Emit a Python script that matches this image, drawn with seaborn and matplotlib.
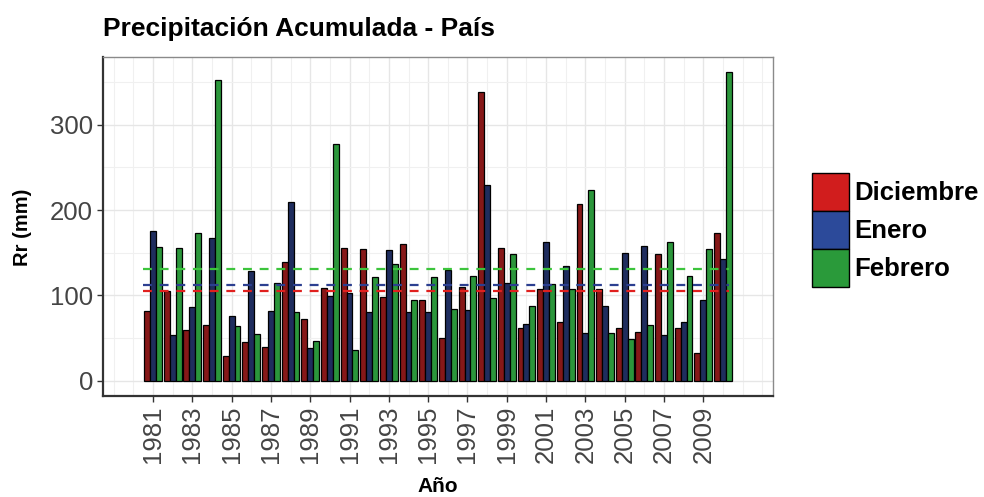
import matplotlib
matplotlib.use('Agg')
import matplotlib.pyplot as plt
from matplotlib.patches import Patch
from matplotlib.ticker import FixedLocator
import seaborn as sns
import pandas as pd
import numpy as np

# Accumulated precipitation (mm) per season year
years = list(range(1981, 2011))
diciembre = [82, 105, 59, 65, 29, 45, 39, 139, 72, 109,
             156, 154, 98, 160, 94, 50, 110, 339, 155, 62,
             107, 69, 207, 107, 62, 57, 149, 62, 32, 173]
enero = [176, 54, 86, 167, 76, 128, 82, 210, 38, 99,
         103, 81, 153, 81, 81, 130, 83, 229, 114, 67,
         163, 134, 56, 88, 150, 158, 54, 69, 95, 143]
febrero = [157, 155, 173, 352, 64, 55, 114, 80, 46, 277,
           36, 122, 137, 95, 121, 84, 123, 97, 148, 87,
           113, 107, 224, 56, 49, 65, 163, 123, 154, 362]
months = ['Diciembre', 'Enero', 'Febrero']
tick_years = list(range(1981, 2010, 2))

bar_colors = ['#861818', '#1f2d5e', '#2b963b']
key_colors = ['#d11d1d', '#2c4a9a', '#2a9a3a']
mean_colors = ['#e0201e', '#2c3f90', '#3cc43c']

df = pd.DataFrame({
    'year': years * 3,
    'month': np.repeat(months, len(years)),
    'rr': diciembre + enero + febrero,
})

sns.set_theme(style='white', rc={'text.color': 'black'})
plt.rcParams['font.family'] = ['Liberation Sans', 'DejaVu Sans']

fig = plt.figure(figsize=(9.84, 4.97), dpi=100)
ax = fig.add_axes([0.1044, 0.2032, 0.6812, 0.6821])

sns.barplot(data=df, x='year', y='rr', hue='month', hue_order=months,
            palette=bar_colors, native_scale=True, width=0.9,
            edgecolor='black', linewidth=0.9, saturation=1,
            ax=ax, legend=False, zorder=2)

# mean of each month, dashed
for vals, col in zip([diciembre, enero, febrero], mean_colors):
    ax.hlines(np.mean(vals), years[0] - 0.5, years[-1] + 0.3,
              colors=col, linestyles=(0, (4, 3.5)), linewidth=1.6, zorder=3)

ax.set_xlim(1978.44, 2012.55)
ax.set_ylim(-18, 379.5)
ax.xaxis.set_major_locator(FixedLocator(tick_years))
ax.xaxis.set_minor_locator(FixedLocator(list(range(1979, 2013))))
ax.yaxis.set_major_locator(FixedLocator([0, 100, 200, 300]))
ax.yaxis.set_minor_locator(FixedLocator([50, 150, 250, 350]))
ax.set_xticklabels([str(y) for y in tick_years], rotation=90)

ax.grid(True, which='major', color='#e6e6e6', linewidth=1.0, zorder=0)
ax.grid(True, which='minor', color='#f0f0f0', linewidth=0.8, zorder=0)
ax.set_axisbelow(True)

ax.tick_params(axis='both', which='major', length=4, width=1.0,
               color='#333333', labelsize=18.5, labelcolor='#444444',
               pad=3, bottom=True, left=True)
ax.tick_params(axis='both', which='minor', length=0)

for side in ['top', 'right']:
    ax.spines[side].set_color('#8a8a8a')
    ax.spines[side].set_linewidth(1.0)
for side in ['left', 'bottom']:
    ax.spines[side].set_color('#333333')
    ax.spines[side].set_linewidth(1.6)

ax.set_xlabel('')
ax.set_ylabel('')
fig.text(0.4451, 1 - 487 / 497, 'Año', ha='center', va='center',
         fontsize=15, fontweight='bold')
fig.text(22 / 984, 1 - 227 / 497, 'Rr (mm)', ha='center', va='center',
         rotation=90, fontsize=14.5, fontweight='bold')
fig.text(0.1044, 1 - 36 / 497, 'Precipitación Acumulada - País',
         ha='left', va='baseline', fontsize=19, fontweight='bold')

handles = [Patch(facecolor=c, edgecolor='black', linewidth=1.0)
           for c in key_colors]
fig.legend(handles, months, loc='upper left',
           bbox_to_anchor=(812 / 984, 1 - 173 / 497), frameon=False,
           prop={'weight': 'bold', 'size': 18.5},
           handlelength=1.44, handleheight=1.9, labelspacing=0.0,
           handletextpad=0.22, borderpad=0, borderaxespad=0)

fig.savefig('out.png', dpi=100)
